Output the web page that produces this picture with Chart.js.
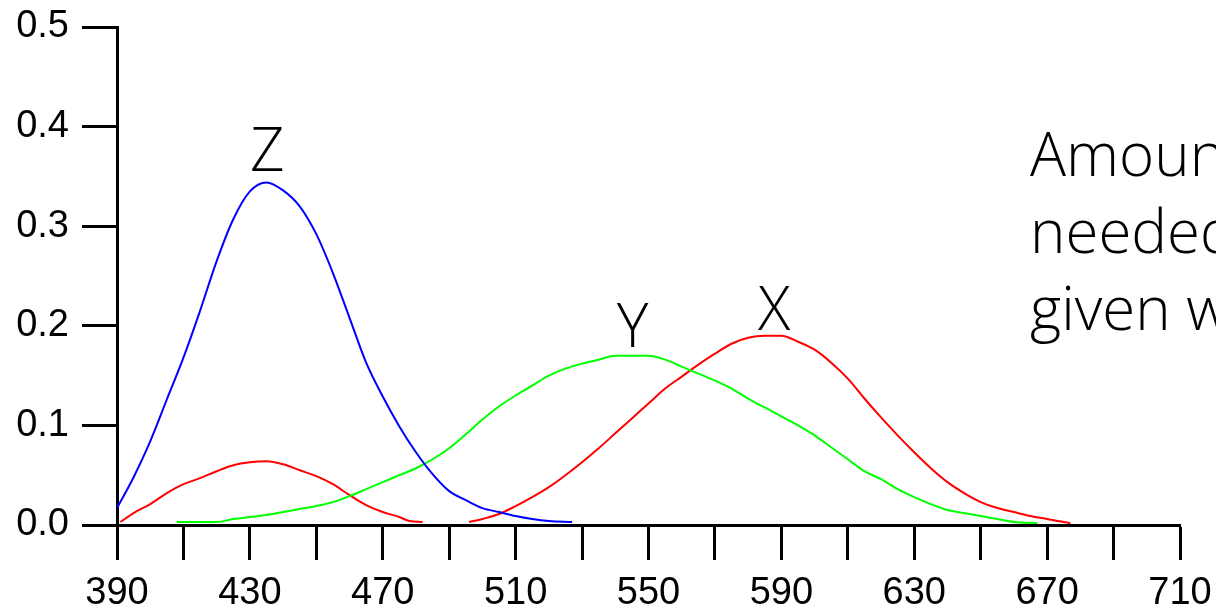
<!DOCTYPE html>
<html>
<head>
<meta charset="utf-8">
<script src="https://cdn.jsdelivr.net/npm/chart.js@4.4.1/dist/chart.umd.min.js"></script>
<style>
  html, body { margin: 0; padding: 0; background: #ffffff; }
  #wrap { width: 1216px; height: 609px; position: relative; }
</style>
</head>
<body>
<div id="wrap"><canvas id="c"></canvas></div>
<script>
// ---- data (wavelength in nm, amount) ----
const zWavelengths = [390,395,400,405,410,415,420,425,430,435,440,445,450,455,460,465,470,475,480,485,490,495,500,505,510,515,520,527];
const zValues      = [.017,.048,.084,.126,.168,.215,.265,.307,.335,.344,.336,.320,.292,.253,.208,.163,.129,.099,.073,.051,.034,.025,.017,.013,.009,.006,.004,.003];

const xWavelengths = [391,395,400,405,410,415,420,425,430,435,440,445,450,455,460,465,470,475,478,482,489,496,500,505,510,515,520,525,530,535,540,545,550,555,560,565,570,575,580,585,590,595,600,605,610,615,620,625,630,635,640,645,650,655,660,665,670,675,677];
const xValues      = [.003,.012,.021,.032,.041,.047,.054,.060,.063,.064,.061,.055,.049,.041,.030,.020,.013,.008,.004,.003,null,.003,.006,.011,.019,.028,.038,.050,.063,.077,.092,.107,.122,.137,.149,.161,.172,.182,.188,.190,.190,.184,.176,.163,.147,.127,.108,.090,.073,.057,.043,.032,.023,.017,.013,.009,.006,.003,.002];

const yWavelengths = [408,420,425,430,435,440,445,450,455,460,465,470,475,480,485,490,495,500,505,510,515,520,525,530,535,540,545,550,555,560,565,570,575,580,585,590,595,600,605,610,615,620,625,630,635,640,645,650,655,660,667];
const yValues      = [.003,.003,.006,.008,.010,.013,.016,.019,.023,.029,.036,.043,.050,.057,.066,.077,.091,.106,.119,.130,.140,.150,.157,.162,.166,.170,.170,.170,.166,.159,.152,.145,.137,.127,.118,.109,.100,.090,.078,.066,.054,.046,.036,.028,.021,.015,.012,.009,.006,.003,.002];

const xAxisMin = 390, xAxisMax = 710, xAxisStep = 20, xLabelEvery = 40;
const yAxisMin = 0, yAxisMax = 0.5, yAxisStep = 0.1;

const curveLabels = [
  { text: 'Z', x: 435.2, y: 0.355 },
  { text: 'Y', x: 545.2, y: 0.179 },
  { text: 'X', x: 587.8, y: 0.196 }
];
const sideText = ['Amount of each primary', 'needed to match a', 'given wavelength'];

function pairs(xs, ys) { return xs.map((w, i) => ({ x: w, y: ys[i] })); }

const TEXT_FONT = '300 60px "Open Sans", Lato, sans-serif';
const TICK_FONT = { family: '"Liberation Sans", Arial, sans-serif', size: 38 };

const labelPlugin = {
  id: 'labels',
  afterDraw(chart) {
    const ctx = chart.ctx;
    const sx = chart.scales.x, sy = chart.scales.y;
    ctx.save();
    ctx.fillStyle = '#000';
    ctx.font = TEXT_FONT;
    ctx.textBaseline = 'alphabetic';
    ctx.textAlign = 'center';
    curveLabels.forEach(l => ctx.fillText(l.text, sx.getPixelForValue(l.x), sy.getPixelForValue(l.y)));
    ctx.textAlign = 'left';
    sideText.forEach((t, i) => ctx.fillText(t, 1030, 176 + i * 77));
    ctx.restore();
  }
};

const lineStyle = { borderWidth: 2, pointRadius: 0, fill: false, cubicInterpolationMode: 'monotone', spanGaps: false };

new Chart(document.getElementById('c'), {
  type: 'line',
  data: {
    datasets: [
      Object.assign({ label: 'Z', data: pairs(zWavelengths, zValues), borderColor: '#0000ff' }, lineStyle),
      Object.assign({ label: 'Y', data: pairs(yWavelengths, yValues), borderColor: '#00ff00' }, lineStyle),
      Object.assign({ label: 'X', data: pairs(xWavelengths, xValues), borderColor: '#ff0000' }, lineStyle)
    ]
  },
  options: {
    responsive: true,
    maintainAspectRatio: false,
    animation: false,
    layout: { padding: { top: 27, right: 36, left: 0, bottom: 0 } },
    plugins: { legend: { display: false }, tooltip: { enabled: false } },
    scales: {
      x: {
        type: 'linear',
        min: xAxisMin, max: xAxisMax,
        afterFit(s) { s.height = 84; s.paddingLeft = 0; s.paddingRight = 0; },
        grid: { drawOnChartArea: false, drawTicks: true, tickLength: 35, tickWidth: 3, tickColor: '#000' },
        border: { display: true, color: '#000', width: 3 },
        ticks: {
          stepSize: xAxisStep, autoSkip: false, maxRotation: 0, padding: 11,
          color: '#000', font: TICK_FONT,
          callback: v => ((v - xAxisMin) % xLabelEvery === 0 ? String(v) : '')
        }
      },
      y: {
        min: yAxisMin, max: yAxisMax,
        afterFit(s) { s.width = 117; s.paddingTop = 0; s.paddingBottom = 0; },
        grid: { drawOnChartArea: false, drawTicks: true, tickLength: 35, tickWidth: 3, tickColor: '#000' },
        border: { display: true, color: '#000', width: 3 },
        ticks: {
          stepSize: yAxisStep, padding: 13,
          color: '#000', font: TICK_FONT,
          callback: v => v.toFixed(1)
        }
      }
    }
  },
  plugins: [labelPlugin]
});
</script>
</body>
</html>
